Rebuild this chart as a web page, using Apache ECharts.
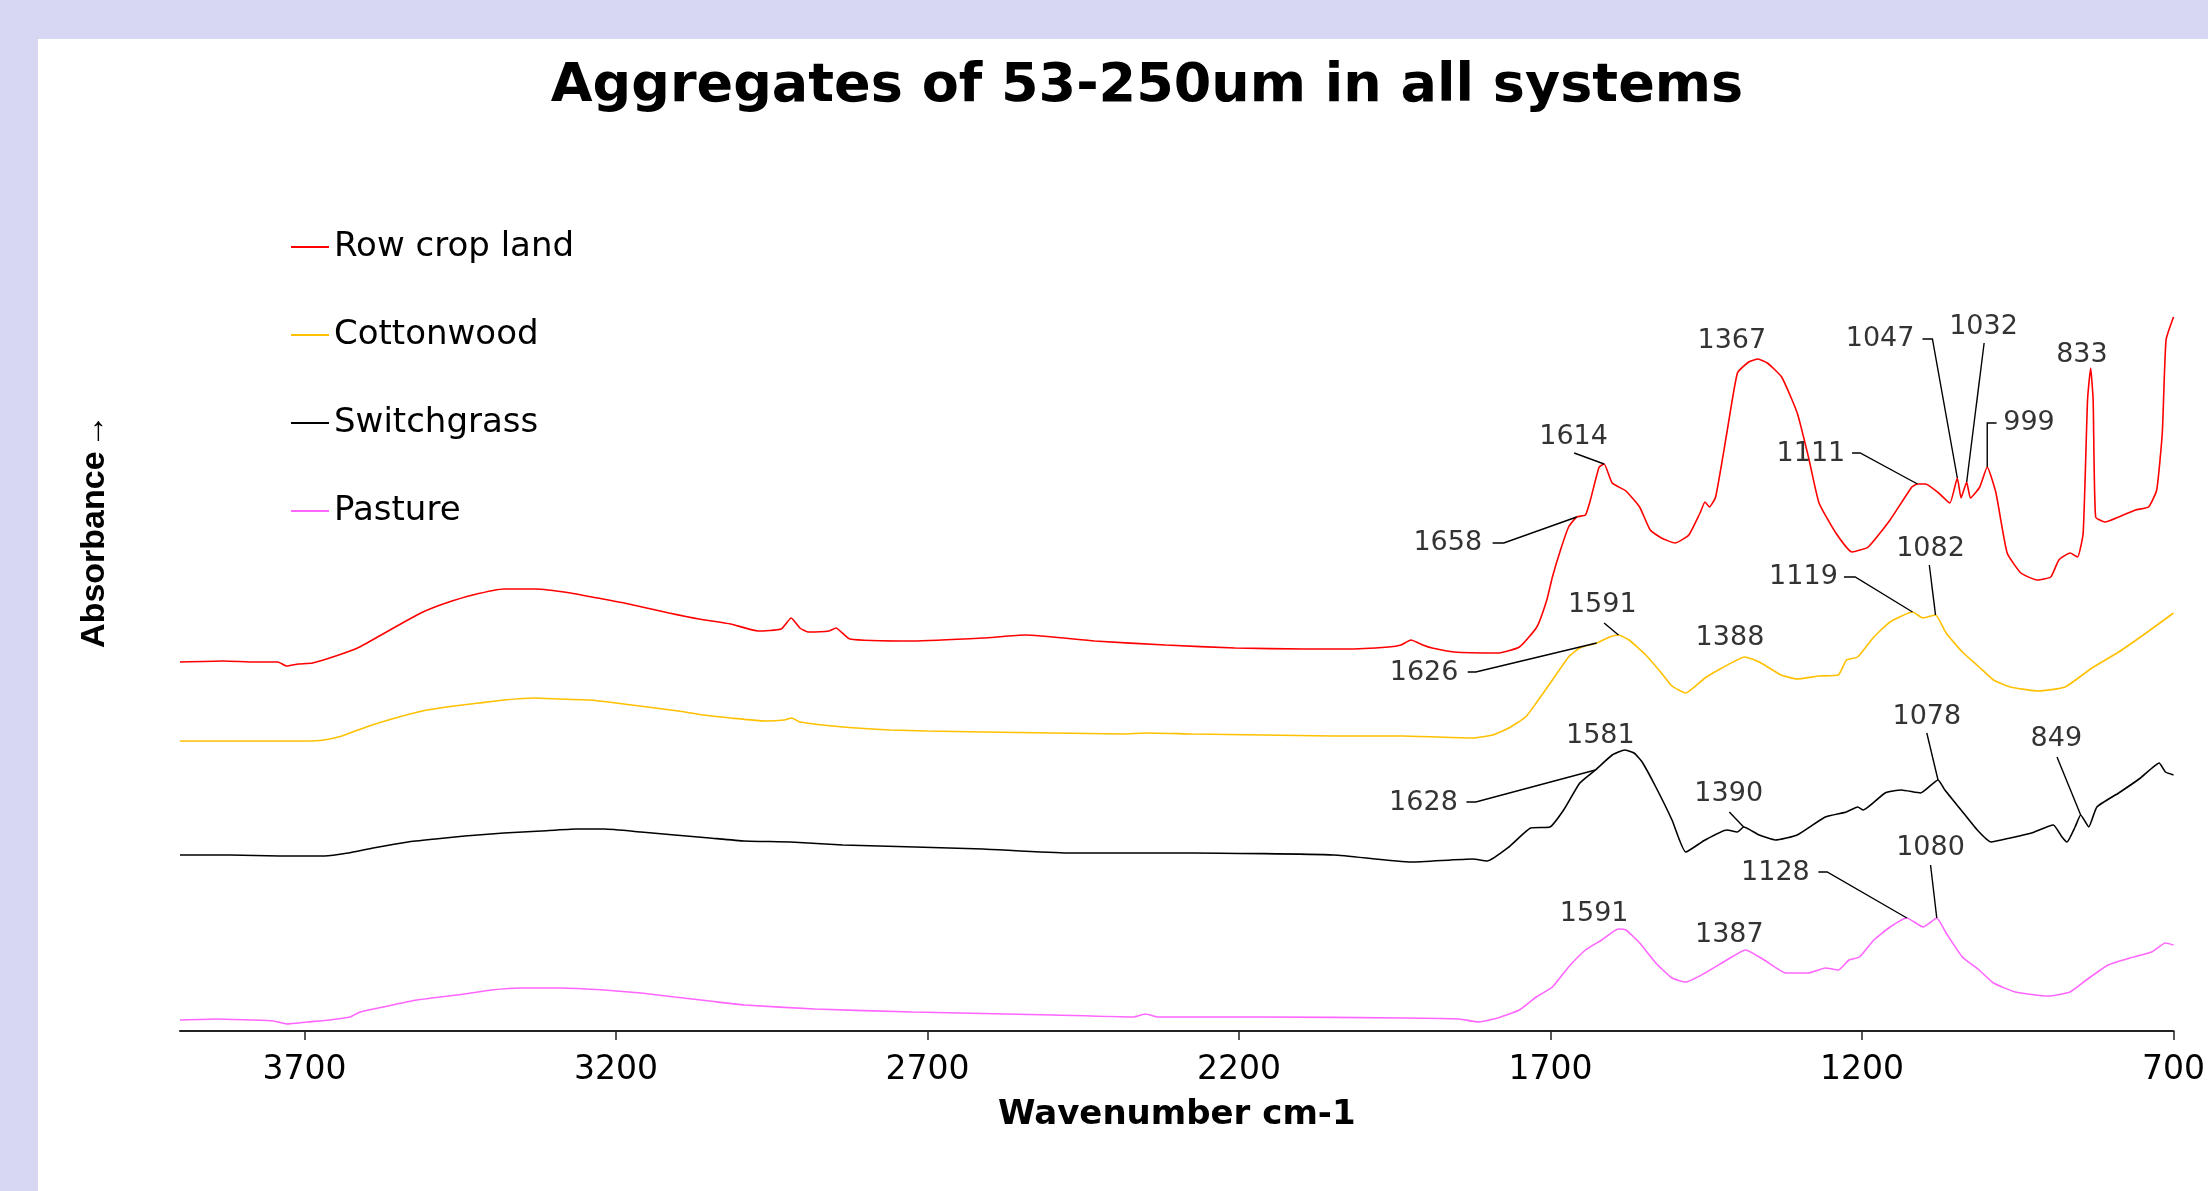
<!DOCTYPE html>
<html>
<head>
<meta charset="utf-8">
<title>Aggregates of 53-250um in all systems</title>
<script src="https://cdn.jsdelivr.net/npm/echarts@6/dist/echarts.min.js"></script>
<style>
  html, body { margin: 0; padding: 0; background: #d7d7f4; }
  #chart { width: 2208px; height: 1191px; }
</style>
</head>
<body>
<div id="chart"></div>
<script>
// FTIR spectra, [wavenumber (cm-1), absorbance (offset, arbitrary units)]
const rowCropLand = [
  [3900,.369],[3830,.370],[3780,.369],[3743,.369],[3729,.365],[3710,.367],[3687,.368],[3650,.375],
  [3615,.383],[3580,.395],[3543,.408],[3510,.419],[3473,.428],[3430,.436],[3380,.442],[3329,.442],
  [3273,.438],[3230,.433],[3187,.428],[3115,.418],[3067,.412],[3016,.407],[2972,.400],[2935,.402],
  [2919,.413],[2905,.403],[2892,.399],[2858,.400],[2847,.403],[2825,.392],[2724,.390],[2611,.393],
  [2543,.396],[2432,.390],[2318,.386],[2206,.383],[2095,.382],[2029,.382],[1960,.384],[1940,.386],
  [1924,.391],[1905,.386],[1890,.383],[1855,.379],[1785,.378],[1750,.384],[1722,.404],[1706,.431],
  [1697,.454],[1684,.481],[1671,.504],[1658,.514],[1644,.516],[1636,.531],[1622,.564],[1614,.567],
  [1601,.548],[1579,.540],[1557,.524],[1540,.501],[1522,.493],[1500,.488],[1478,.496],[1460,.518],
  [1452,.529],[1445,.524],[1435,.534],[1417,.598],[1400,.658],[1382,.669],[1367,.672],[1352,.668],
  [1329,.654],[1304,.618],[1286,.574],[1269,.528],[1242,.498],[1216,.479],[1190,.484],[1155,.511],
  [1120,.544],[1111,.547],[1098,.547],[1077,.538],[1059,.528],[1047,.553],[1041,.533],[1032,.549],
  [1026,.533],[1011,.544],[999,.564],[985,.538],[967,.478],[945,.458],[919,.451],[897,.454],
  [884,.471],[866,.478],[854,.474],[845,.498],[838,.631],[833,.663],[829,.631],[825,.514],
  [810,.509],[788,.514],[761,.521],[740,.524],[727,.541],[718,.598],[712,.691],[700,.714]
];
const cottonwood = [
  [3900,.290],[3800,.290],[3700,.290],[3669,.291],[3640,.295],[3601,.304],[3560,.312],[3511,.320],
  [3460,.325],[3420,.328],[3380,.331],[3331,.333],[3290,.332],[3242,.331],[3200,.328],[3150,.324],
  [3100,.320],[3061,.316],[3016,.313],[2960,.310],[2930,.311],[2918,.313],[2905,.309],[2836,.304],
  [2760,.301],[2700,.300],[2611,.299],[2500,.298],[2387,.297],[2350,.298],[2275,.297],[2162,.296],
  [2050,.295],[1937,.295],[1825,.293],[1793,.296],[1767,.303],[1740,.314],[1723,.328],[1697,.351],
  [1671,.374],[1653,.383],[1626,.388],[1605,.394],[1591,.396],[1574,.391],[1547,.376],[1522,.358],
  [1505,.345],[1483,.338],[1452,.353],[1425,.363],[1388,.374],[1365,.369],[1330,.356],[1304,.352],
  [1269,.355],[1238,.356],[1225,.371],[1207,.374],[1181,.394],[1155,.409],[1119,.419],[1102,.413],
  [1082,.416],[1065,.398],[1039,.379],[1012,.364],[989,.351],[962,.344],[917,.340],[874,.344],
  [831,.363],[788,.379],[744,.398],[700,.418]
];
const switchgrass = [
  [3900,.176],[3820,.176],[3740,.175],[3668,.175],[3630,.178],[3590,.183],[3534,.189],[3490,.192],
  [3443,.195],[3380,.198],[3320,.200],[3264,.202],[3219,.202],[3160,.199],[3106,.196],[3050,.193],
  [2994,.190],[2920,.189],[2836,.186],[2720,.184],[2611,.182],[2476,.178],[2274,.178],[2048,.176],
  [1924,.169],[1825,.172],[1802,.170],[1767,.184],[1732,.203],[1701,.204],[1679,.221],[1653,.248],
  [1628,.261],[1601,.276],[1581,.281],[1566,.278],[1553,.269],[1531,.244],[1505,.211],[1483,.179],
  [1452,.191],[1417,.201],[1400,.199],[1390,.204],[1365,.196],[1339,.191],[1304,.196],[1259,.214],
  [1225,.219],[1207,.224],[1198,.221],[1163,.238],[1137,.241],[1106,.238],[1078,.251],[1067,.241],
  [1041,.221],[1015,.201],[993,.189],[962,.193],[928,.198],[893,.206],[879,.194],[871,.189],
  [858,.204],[849,.216],[836,.204],[823,.224],[788,.238],[753,.253],[723,.268],[713,.259],[700,.256]
];
const pasture = [
  [3900,.011],[3840,.012],[3786,.011],[3750,.010],[3728,.007],[3696,.009],[3660,.011],[3627,.014],
  [3611,.019],[3574,.024],[3520,.031],[3443,.037],[3400,.041],[3353,.043],[3290,.043],[3219,.041],
  [3160,.038],[3106,.034],[3050,.030],[2994,.026],[2881,.022],[2724,.019],[2499,.016],[2370,.014],
  [2350,.017],[2330,.014],[2162,.014],[1937,.013],[1847,.012],[1815,.009],[1785,.013],[1750,.021],
  [1723,.034],[1697,.044],[1671,.064],[1644,.081],[1618,.091],[1591,.102],[1579,.101],[1557,.088],
  [1531,.068],[1505,.053],[1483,.049],[1452,.058],[1417,.071],[1387,.081],[1357,.071],[1322,.058],
  [1286,.058],[1259,.063],[1238,.061],[1221,.071],[1204,.074],[1181,.091],[1155,.104],[1128,.113],
  [1102,.104],[1080,.113],[1065,.098],[1039,.074],[1012,.061],[989,.048],[954,.039],[901,.035],
  [866,.039],[840,.051],[805,.066],[770,.073],[735,.079],[713,.088],[700,.086]
];

// Labelled band positions (cm-1) for each spectrum
const rowCropPeaks = [1658, 1614, 1367, 1111, 1047, 1032, 999, 833];
const cottonwoodPeaks = [1626, 1591, 1388, 1119, 1082];
const switchgrassPeaks = [1628, 1581, 1390, 1078, 849];
const pasturePeaks = [1591, 1387, 1128, 1080];

// Wavenumber tick labels along the bottom axis
const wavenumberTicks = [3700, 3200, 2700, 2200, 1700, 1200, 700];

// Where each band label sits (data coordinates) and the bends of its leader line
const labelPlacement = {
  'Row crop land': {
    1658: { at: [1865, .488], bend: [[1793, .488], [1775, .488]] },
    1614: { at: [1663, .594], bend: [[1662, .578]] },
    1367: { at: [1409, .690], bend: [] },
    1111: { at: [1282, .577], bend: [[1216, .578], [1203, .578]] },
    1047: { at: [1171, .692], bend: [[1103, .692], [1087, .692]] },
    1032: { at: [1005, .704], bend: [[1004, .688]] },
    999:  { at: [932, .608],  bend: [[984, .608], [999, .608]] },
    833:  { at: [847, .676],  bend: [] }
  },
  'Cottonwood': {
    1626: { at: [1903, .358], bend: [[1833, .359], [1820, .359]] },
    1591: { at: [1617, .426], bend: [[1614, .408]] },
    1388: { at: [1412, .393], bend: [] },
    1119: { at: [1294, .454], bend: [[1229, .454], [1211, .454]] },
    1082: { at: [1090, .482], bend: [[1092, .466]] }
  },
  'Switchgrass': {
    1628: { at: [1904, .228], bend: [[1835, .229], [1820, .229]] },
    1581: { at: [1620, .295], bend: [] },
    1390: { at: [1414, .237], bend: [[1413, .219]] },
    1078: { at: [1096, .314], bend: [[1096, .298]] },
    849:  { at: [888, .292],  bend: [[887, .274]] }
  },
  'Pasture': {
    1591: { at: [1630, .117], bend: [] },
    1387: { at: [1413, .096], bend: [] },
    1128: { at: [1339, .158], bend: [[1270, .159], [1256, .159]] },
    1080: { at: [1090, .183], bend: [[1090, .166]] }
  }
};

const spectra = [
  { name: 'Row crop land', color: '#ff0000', data: rowCropLand, peaks: rowCropPeaks },
  { name: 'Cottonwood',    color: '#ffc000', data: cottonwood,  peaks: cottonwoodPeaks },
  { name: 'Switchgrass',   color: '#000000', data: switchgrass, peaks: switchgrassPeaks },
  { name: 'Pasture',       color: '#ff66ff', data: pasture,     peaks: pasturePeaks }
];

function absorbanceAt(data, wn) {
  const p = data.find(d => d[0] === wn);
  return p ? p[1] : null;
}

const labelPoints = [];
const leaderLines = [];
spectra.forEach(s => {
  s.peaks.forEach(wn => {
    const place = labelPlacement[s.name][wn];
    labelPoints.push({ value: place.at, name: String(wn) });
    if (place.bend.length) {
      leaderLines.push({ coords: place.bend.concat([[wn, absorbanceAt(s.data, wn)]]) });
    }
  });
});

const chart = echarts.init(document.getElementById('chart'), null, { renderer: 'canvas' });

chart.setOption({
  animation: false,
  backgroundColor: '#d7d7f4',
  graphic: [{
    type: 'rect',
    z: -10,
    silent: true,
    shape: { x: 38, y: 39, width: 2170, height: 1152 },
    style: { fill: '#ffffff' }
  }],
  title: {
    text: 'Aggregates of 53-250um in all systems',
    left: 1142,
    top: 55,
    textAlign: 'center',
    textStyle: { fontFamily: 'DejaVu Sans', fontWeight: 'bold', fontSize: 54, color: '#000' }
  },
  legend: {
    data: spectra.map(s => s.name),
    orient: 'vertical',
    left: 286,
    top: 222,
    icon: 'rect',
    itemWidth: 38,
    itemHeight: 2,
    itemGap: 48,
    textStyle: { fontFamily: 'DejaVu Sans', fontSize: 34, color: '#000', lineHeight: 40 }
  },
  grid: { left: 180, right: 26, top: 31, bottom: 160, containLabel: false },
  xAxis: {
    type: 'value',
    min: 700,
    max: 3900,
    inverse: true,
    name: 'Wavenumber cm-1',
    nameLocation: 'middle',
    nameGap: 67,
    nameTextStyle: { fontFamily: 'DejaVu Sans', fontWeight: 'bold', fontSize: 34, color: '#000' },
    axisLine: { lineStyle: { color: '#222', width: 2 } },
    axisTick: { customValues: wavenumberTicks, length: 9, lineStyle: { color: '#222', width: 1.5 } },
    axisLabel: {
      customValues: wavenumberTicks,
      formatter: v => String(v),
      margin: 23,
      fontFamily: 'DejaVu Sans',
      fontSize: 33,
      color: '#000'
    },
    splitLine: { show: false }
  },
  yAxis: {
    type: 'value',
    min: 0,
    max: 1,
    name: '{b|Absorbance} {a|→}',
    nameLocation: 'middle',
    nameRotate: 90,
    nameGap: 68,
    nameTextStyle: {
      rich: {
        b: { fontFamily: 'Liberation Sans', fontWeight: 'bold', fontSize: 34, color: '#000' },
        a: { fontFamily: 'Liberation Sans', fontWeight: 'normal', fontSize: 34, color: '#000' }
      }
    },
    axisLine: { show: false },
    axisTick: { show: false },
    axisLabel: { show: false },
    splitLine: { show: false }
  },
  series: spectra.map(s => ({
    name: s.name,
    type: 'line',
    data: s.data,
    symbol: 'none',
    showSymbol: false,
    smooth: 0.15,
    color: s.color,
    lineStyle: { color: s.color, width: 1.6 },
    z: 3
  })).concat([
    {
      name: 'leaders',
      type: 'lines',
      coordinateSystem: 'cartesian2d',
      polyline: true,
      silent: true,
      symbol: 'none',
      lineStyle: { color: '#000', width: 1.4, opacity: 1 },
      data: leaderLines,
      z: 4
    },
    {
      name: 'band labels',
      type: 'scatter',
      symbolSize: 1,
      itemStyle: { color: 'rgba(0,0,0,0)' },
      silent: true,
      data: labelPoints,
      label: {
        show: true,
        position: 'inside',
        formatter: p => p.name,
        fontFamily: 'DejaVu Sans',
        fontSize: 27,
        color: '#000'
      },
      z: 5
    }
  ])
});
</script>
</body>
</html>
